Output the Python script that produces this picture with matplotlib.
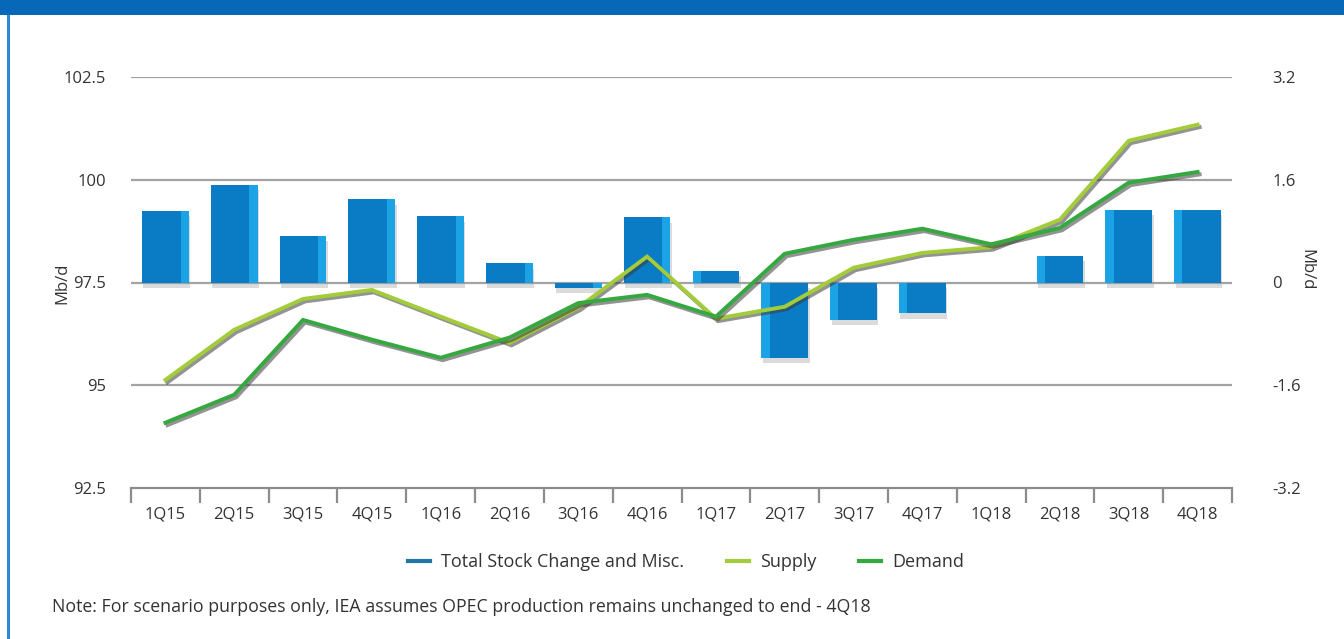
import matplotlib.pyplot as plt
import matplotlib.patheffects as pe
from matplotlib.lines import Line2D
from matplotlib.patches import Rectangle
import numpy as np

plt.rcParams['font.family'] = ['Open Sans', 'DejaVu Sans']

quarters = ['1Q15', '2Q15', '3Q15', '4Q15', '1Q16', '2Q16', '3Q16', '4Q16',
            '1Q17', '2Q17', '3Q17', '4Q17', '1Q18', '2Q18', '3Q18', '4Q18']
stock_change = [1.12, 1.52, 0.73, 1.30, 1.03, 0.30, -0.08, 1.02,
                0.18, -1.17, -0.58, -0.48, 0.0, 0.42, 1.13, 1.13]
supply = [95.13, 96.35, 97.10, 97.32, 96.67, 96.03, 96.89, 98.13,
          96.62, 96.91, 97.86, 98.22, 98.36, 99.03, 100.95, 101.34]
demand = [94.09, 94.77, 96.59, 96.11, 95.67, 96.16, 97.00, 97.20,
          96.67, 98.20, 98.54, 98.81, 98.43, 98.83, 99.93, 100.19]
left_ticks = [92.5, 95, 97.5, 100, 102.5]
left_labels = ['92.5', '95', '97.5', '100', '102.5']
right_ticks = [-3.2, -1.6, 0, 1.6, 3.2]
right_labels = ['-3.2', '-1.6', '0', '1.6', '3.2']

bar_dark = '#0a7cc6'
bar_light = '#1ba3e6'
supply_col = '#a3cc3a'
demand_col = '#35a840'
text_col = '#333333'

fig = plt.figure(figsize=(13.44, 6.39), dpi=100)
fig.patch.set_facecolor('white')

# header band and left frame line
fig.patches.append(Rectangle((0, 624 / 639), 1, 15 / 639, transform=fig.transFigure,
                             facecolor='#0868b8', edgecolor='none', zorder=0))
fig.patches.append(Rectangle((7 / 1344, 0), 3 / 1344, 624 / 639, transform=fig.transFigure,
                             facecolor='#2f86d2', edgecolor='none', zorder=0))

ax = fig.add_axes([131 / 1344, 151 / 639, 1101 / 1344, 411 / 639])
ax2 = ax.twinx()
ax.set_zorder(ax2.get_zorder() + 1)
ax.patch.set_visible(False)

x = np.arange(len(quarters))
ax.set_xlim(-0.5, len(quarters) - 0.5)
ax.set_ylim(92.5, 102.5)
ax2.set_ylim(-3.2, 3.2)

# gridlines
for v in right_ticks[1:]:
    ax2.axhline(v, color='#a3a3a3', lw=1.6, zorder=0)

# bars with a lighter side strip
bw = 0.68
strip = 0.12
bars = ax2.bar(x, stock_change, width=bw, color=bar_dark, zorder=2)
for b in bars:
    b.set_path_effects([pe.SimplePatchShadow(offset=(1, -4), shadow_rgbFace='#9a9a9a', alpha=0.35),
                        pe.Normal()])
for i, v in enumerate(stock_change):
    if v == 0:
        continue
    if i < 8:
        sx = x[i] + bw / 2 - strip
    else:
        sx = x[i] - bw / 2
    ax2.bar(sx, v, width=strip, align='edge', color=bar_light, zorder=3)

shadow = [pe.SimpleLineShadow(offset=(1.5, -1.8), shadow_color='#3a3a3a', alpha=0.55),
          pe.Normal()]
ax.plot(x, supply, color=supply_col, lw=2.8, zorder=5, path_effects=shadow,
        solid_joinstyle='miter')
ax.plot(x, demand, color=demand_col, lw=2.8, zorder=6, path_effects=shadow,
        solid_joinstyle='miter')

# axes styling
for a in (ax, ax2):
    for s in ('top', 'left', 'right'):
        a.spines[s].set_visible(False)
ax2.spines['bottom'].set_visible(False)
ax.spines['bottom'].set_color('#8c8c8c')
ax.spines['bottom'].set_linewidth(1.6)

ax.set_xticks(x)
ax.set_xticklabels(quarters)
ax.set_xticks(np.arange(-0.5, len(quarters)), minor=True)
ax.tick_params(axis='x', which='major', length=0, pad=13, labelsize=12, labelcolor=text_col)
ax.tick_params(axis='x', which='minor', length=11, width=1.6, color='#8c8c8c')

ax.set_yticks(left_ticks)
ax.set_yticklabels(left_labels)
ax.tick_params(axis='y', length=0, pad=18, labelsize=12, labelcolor=text_col)
ax2.set_yticks(right_ticks)
ax2.set_yticklabels(right_labels)
ax2.tick_params(axis='y', length=0, pad=29, labelsize=12, labelcolor=text_col)
for t in ax2.get_yticklabels():
    t.set_horizontalalignment('left')

fig.text(62 / 1344, 1 - 283 / 639, 'Mb/d', rotation=90, ha='center', va='center',
         fontsize=12, color=text_col)
fig.text(1306 / 1344, 1 - 270 / 639, 'Mb/d', rotation=270, ha='center', va='center',
         fontsize=12, color=text_col)

handles = [Line2D([], [], color='#2176a8', lw=3),
           Line2D([], [], color=supply_col, lw=3),
           Line2D([], [], color=demand_col, lw=3)]
fig.legend(handles, ['Total Stock Change and Misc.', 'Supply', 'Demand'],
           loc='center', bbox_to_anchor=(686 / 1344, 1 - 562 / 639), ncol=3,
           frameon=False, fontsize=13, handlelength=1.2, handletextpad=0.6,
           columnspacing=2.4, labelcolor=text_col)

fig.text(52 / 1344, 1 - 607 / 639,
         'Note: For scenario purposes only, IEA assumes OPEC production remains unchanged to end - 4Q18',
         ha='left', va='center', fontsize=12.8, color=text_col)

fig.savefig('out.png', dpi=100)
